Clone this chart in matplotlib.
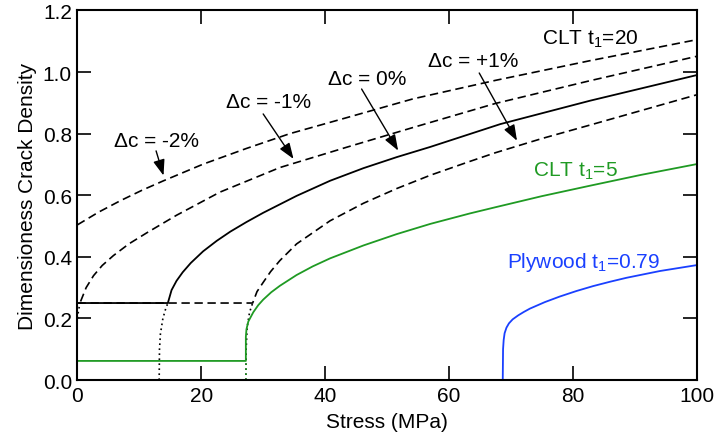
import numpy as np
import matplotlib.pyplot as plt

plt.rcParams['font.family'] = ['Liberation Sans', 'DejaVu Sans']
plt.rcParams['mathtext.fontset'] = 'custom'
plt.rcParams['mathtext.rm'] = 'Liberation Sans'
plt.rcParams['mathtext.it'] = 'Liberation Sans:italic'

# Stress (MPa) mot dimensionslös sprickdensitet
# dc = -2 %
x_m2 = [0, 3.4, 6.9, 10.4, 13.9, 20.3, 27.3, 34.3, 43.5, 54.2, 67.5, 82.8, 100]
y_m2 = [0.504, 0.545, 0.582, 0.616, 0.647, 0.701, 0.752, 0.800, 0.852, 0.913, 0.973, 1.037, 1.105]

# dc = -1 %
x_m1_dot = [0, 0.2, 0.5]
y_m1_dot = [0.20, 0.23, 0.255]
x_m1 = [0.5, 1.4, 2.6, 4.0, 5.8, 8.3, 11.2, 16.0, 23.0, 32.7, 43.5, 54.2, 67.5, 82.8, 100]
y_m1 = [0.255, 0.30, 0.339, 0.372, 0.404, 0.442, 0.478, 0.535, 0.610, 0.690, 0.756, 0.820, 0.898, 0.972, 1.051]

# dc = 0 %
x_0_dot = [13.2, 13.25, 13.4, 13.8, 14.2, 14.6]
y_0_dot = [0.0, 0.10, 0.15, 0.20, 0.228, 0.25]
x_0 = [0, 14.6, 15.2, 16.0, 17.0, 18.3, 20.3, 22.5, 24.7, 27.3, 30.0, 35.4, 40.8, 46.2, 51.6, 57.0, 68.3, 82.8, 100]
y_0 = [0.25, 0.25, 0.292, 0.322, 0.35, 0.38, 0.418, 0.452, 0.482, 0.513, 0.543, 0.598, 0.647, 0.688, 0.724, 0.757, 0.831, 0.907, 0.990]

# dc = +1 %
x_p1_dot = [27.2, 27.25, 27.4, 27.8, 28.3]
y_p1_dot = [0.0, 0.10, 0.17, 0.22, 0.25]
x_p1 = [0, 28.3, 29.0, 30.0, 31.2, 32.7, 35.4, 40.8, 46.2, 51.6, 57.0, 63.4, 67.5, 75.0, 82.8, 100]
y_p1 = [0.25, 0.25, 0.287, 0.317, 0.352, 0.388, 0.442, 0.517, 0.574, 0.622, 0.665, 0.710, 0.738, 0.784, 0.828, 0.926]

# CLT t1=5
x_clt5_dot = [27.2, 27.2]
y_clt5_dot = [0.0, 0.062]
x_clt5 = [0, 27.2, 27.2, 27.3, 27.6, 28.4, 29.2, 30.0, 31.3, 32.7, 35.4, 38.0, 40.8, 46.2, 51.6, 57.0, 63.4, 67.5, 75.0, 82.8, 91.0, 100]
y_clt5 = [0.062, 0.062, 0.14, 0.165, 0.19, 0.22, 0.243, 0.261, 0.285, 0.306, 0.341, 0.369, 0.395, 0.437, 0.474, 0.507, 0.541, 0.561, 0.597, 0.631, 0.666, 0.701]

# Plywood t1=0.79
x_ply = [68.7, 68.75, 68.85, 69.0, 69.3, 69.7, 70.3, 71.2, 72.1, 73.1, 75.5, 77.9, 80.6, 83.3, 86.0, 88.7, 94.1, 100]
y_ply = [0.0, 0.10, 0.13, 0.152, 0.17, 0.184, 0.197, 0.21, 0.221, 0.232, 0.253, 0.271, 0.289, 0.305, 0.319, 0.332, 0.354, 0.373]

gron = '#1f9a23'
bla = '#1a40ff'
streck = (0, (5, 2.8))
prick = (0, (1, 2))

fig = plt.figure(figsize=(7.14, 4.35), dpi=100)
ax = fig.add_axes([0.1085, 0.1241, 0.867, 0.8495])

ax.plot(x_m2, y_m2, color='k', lw=1.2, linestyle=streck)
ax.plot(x_m1_dot, y_m1_dot, color='k', lw=1.2, linestyle=prick)
ax.plot(x_m1, y_m1, color='k', lw=1.2, linestyle=streck)
ax.plot(x_p1_dot, y_p1_dot, color='k', lw=1.2, linestyle=prick)
ax.plot(x_p1, y_p1, color='k', lw=1.2, linestyle=streck)
ax.plot(x_0_dot, y_0_dot, color='k', lw=1.2, linestyle=prick)
ax.plot(x_0, y_0, color='k', lw=1.3)
ax.plot(x_clt5_dot, y_clt5_dot, color=gron, lw=1.2, linestyle=prick)
ax.plot(x_clt5, y_clt5, color=gron, lw=1.3)
ax.plot(x_ply, y_ply, color=bla, lw=1.3)

# etiketter och pilar
fs = 15
ax.text(12.8, 0.760, '\u0394c = -2%', fontsize=fs, ha='center', va='baseline')
ax.text(30.8, 0.887, '\u0394c = -1%', fontsize=fs, ha='center', va='baseline')
ax.text(46.8, 0.961, '\u0394c = 0%', fontsize=fs, ha='center', va='baseline')
ax.text(63.9, 1.020, '\u0394c = +1%', fontsize=fs, ha='center', va='baseline')
ax.text(82.8, 1.091, 'CLT t$_1$=20', fontsize=fs, ha='center', va='baseline')
ax.text(80.4, 0.663, 'CLT t$_1$=5', fontsize=fs, ha='center', va='baseline', color=gron)
ax.text(81.7, 0.367, 'Plywood t$_1$=0.79', fontsize=fs, ha='center', va='baseline', color=bla)

pil = dict(arrowstyle='-|>,head_length=0.6,head_width=0.22', color='k', lw=1.0,
           mutation_scale=16, shrinkA=0, shrinkB=0)
ax.annotate('', xy=(13.9, 0.664), xytext=(12.7, 0.744), arrowprops=pil)
ax.annotate('', xy=(34.9, 0.718), xytext=(30.0, 0.864), arrowprops=pil)
ax.annotate('', xy=(51.8, 0.745), xytext=(45.9, 0.945), arrowprops=pil)
ax.annotate('', xy=(71.0, 0.777), xytext=(64.9, 0.997), arrowprops=pil)

ax.set_xlim(0, 100)
ax.set_ylim(0, 1.2)
ax.set_xticks([0, 20, 40, 60, 80, 100])
ax.set_yticks([0.0, 0.2, 0.4, 0.6, 0.8, 1.0, 1.2])
ax.set_yticklabels(['0.0', '0.2', '0.4', '0.6', '0.8', '1.0', '1.2'])
ax.tick_params(direction='in', length=10, width=1.2, top=True, right=True, labelsize=fs, pad=4)
for s in ax.spines.values():
    s.set_linewidth(1.5)

ax.set_xlabel('Stress (MPa)', fontsize=fs, labelpad=5)
ax.set_ylabel('Dimensioness Crack Density', fontsize=fs, labelpad=4)

fig.savefig('out.png', dpi=100)
